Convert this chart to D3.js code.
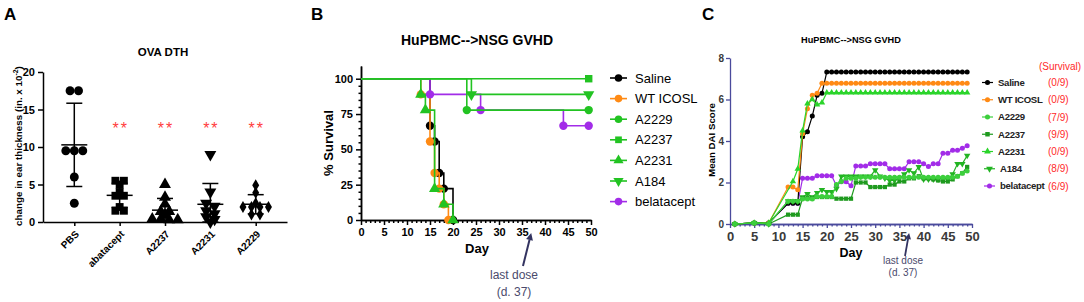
<!DOCTYPE html>
<html>
<head>
<meta charset="utf-8">
<script src="https://cdn.jsdelivr.net/npm/d3@7"></script>
<style>
    body { margin: 0; background: #fff; }
    svg { display: block; font-family: Arial, "Liberation Sans", sans-serif; }
    .axis path, .axis line { stroke: #000; stroke-width: 1.5; }
    .axis text { font-size: 11px; font-weight: bold; fill: #000; font-family: Arial, "Liberation Sans", sans-serif; }
    .axis-c path, .axis-c line { stroke: #4a4a9c; stroke-width: 1.3; }
    .axis-c text { font-weight: bold; fill: #3a3a3a; font-family: Arial, "Liberation Sans", sans-serif; }
    .panel-letter { font-size: 17px; font-weight: bold; }
    .bold { font-weight: bold; }
</style>
</head>
<body>
<div id="chart"></div>
<script>
'use strict';

// ---- Panel A: OVA DTH, change in ear thickness per mouse ----
const groupsA = ['PBS', 'abatacept', 'A2237', 'A2231', 'A2229'];
const pbsA = [17.5, 17.5, 9.5, 9.5, 9.5, 6, 2.5];
const abataceptA = [5.5, 5.5, 5, 4, 3.5, 3.5, 2, 1.5, 1.5];
const a2237A = [5, 3.3, 2.4, 1.4, 1.4, 0.9, 0.4, 0.3, 0.3, 0.4];
const a2231A = [9, 4, 2.5, 2.1, 1.5, 1.1, 0.7, 0.35, 0];
const a2229A = [4.9, 3.9, 2.5, 2, 2, 2, 2, 1, 1];
const seriesA = [pbsA, abataceptA, a2237A, a2231A, a2229A];
const signifA = ['', '**', '**', '**', '**'];
const ticksA = [0, 5, 10, 15, 20];

// ---- Panel B: Kaplan-Meier survival, [day, % survival] ----
const namesB = ['Saline', 'WT ICOSL', 'A2229', 'A2237', 'A2231', 'A184', 'belatacept'];
const salineB = [[0, 100], [15, 66.7], [16, 55.6], [17, 33.3], [18, 22.2], [20, 0]];
const wtIcoslB = [[0, 100], [13, 88.9], [15, 55.6], [16, 33.3], [17, 22.2], [18, 11.1], [19, 0]];
const a2229B = [[0, 100], [23, 77.8], [49.5, 77.8]];
const a2237B = [[0, 100], [49.5, 100]];
const a2231B = [[0, 100], [13, 88.9], [14, 77.8], [16, 22.2], [18, 11.1], [20, 0]];
const a184B = [[0, 100], [24, 88.9], [49.5, 88.9]];
const belataceptB = [[0, 100], [15, 88.9], [26, 77.8], [44, 66.7], [49.5, 66.7]];
const seriesB = [salineB, wtIcoslB, a2229B, a2237B, a2231B, a184B, belataceptB];
const ticksBx = [0, 5, 10, 15, 20, 25, 30, 35, 40, 45, 50];
const ticksBy = [0, 25, 50, 75, 100];

// ---- Panel C: mean DAI score per day ----
const daysC = [1, 5, 8, 12, 13, 14, 15, 16, 17, 18, 19, 20, 21, 22, 23, 24, 25, 26, 27, 28, 29,
    30, 31, 32, 33, 34, 35, 36, 37, 38, 39, 40, 41, 42, 43, 44, 45, 46, 47, 48, 49];
const salineC = [0, 0.05, 0.05, 1.0, 1.0, 1.0, 4.2, 4.45, 5.2, 6.2, 6.3,
    7.33, 7.33, 7.33, 7.33, 7.33, 7.33, 7.33, 7.33, 7.33, 7.33, 7.33, 7.33, 7.33, 7.33, 7.33,
    7.33, 7.33, 7.33, 7.33, 7.33, 7.33, 7.33, 7.33, 7.33, 7.33, 7.33, 7.33, 7.33, 7.33, 7.33];
const wtIcoslC = [0, 0.05, 0.05, 1.78, 1.78, 1.65, 4.35, 5.55, 6.2, 6.3, 6.78,
    6.78, 6.78, 6.78, 6.78, 6.78, 6.78, 6.78, 6.78, 6.78, 6.78, 6.78, 6.78, 6.78, 6.78, 6.78,
    6.78, 6.78, 6.78, 6.78, 6.78, 6.78, 6.78, 6.78, 6.78, 6.78, 6.78, 6.78, 6.78, 6.78, 6.78];
const a2229C = [0, 0.05, 0, 1.1, 1.1, 1.1, 1.2, 1.2, 1.2, 1.33, 1.33, 1.33, 1.33, 1.9, 2.05,
    2.2, 2.2, 2.2, 2.25, 2.25, 2.25, 2.25, 2.25, 2.25, 2.25, 2.25, 2.25, 2.25, 2.25, 2.25,
    2.25, 2.25, 2.25, 2.25, 2.25, 2.25, 2.25, 2.25, 2.3, 2.45, 2.55];
const a2237C = [0, 0.05, 0, 0.45, 0.45, 0.45, 1.25, 1.25, 1.25, 1.3, 1.3, 1.3, 1.3, 1.22, 1.22,
    1.22, 1.22, 2.0, 2.0, 2.0, 1.78, 1.78, 1.78, 1.78, 1.9, 1.9, 2.05, 2.05, 2.2, 2.2, 2.3,
    2.2, 2.2, 2.15, 2.1, 2.05, 2.05, 2.15, 2.3, 2.45, 2.75];
const a2231C = [0, 0.05, 0.05, null, 2.05, 2.65, 4.5, 5.8, 6.0, 5.75, 5.85,
    6.33, 6.33, 6.33, 6.33, 6.33, 6.33, 6.33, 6.33, 6.33, 6.33, 6.33, 6.33, 6.33, 6.33, 6.33,
    6.33, 6.33, 6.33, 6.33, 6.33, 6.33, 6.33, 6.33, 6.33, 6.33, 6.33, 6.33, 6.33, 6.33, 6.33];
const a184C = [0, 0.05, 0, 1.1, 1.1, 1.1, 1.3, 1.45, 1.3, 1.5, 1.65, 1.55, 1.55, 1.7, 2.3,
    2.3, 2.3, 2.3, 2.3, 2.3, 2.3, 2.6, 2.3, 2.2, 2.1, 2.1, 2.2, 2.4, 2.6, 2.45, 2.75,
    2.15, 2.15, 2.15, 2.15, 2.2, 2.15, 2.4, 2.9, 2.9, 3.3];
const belataceptC = [0, 0.05, 0.05, 1.0, 1.0, 1.0, 2.2, 2.2, 2.2, 2.33, 2.33, 2.33, 2.33, 1.84, 2.04,
    2.04, 1.84, 2.8, 2.8, 2.8, 2.9, 2.9, 2.9, 2.9, 2.66, 2.66, 2.66, 2.66, 3.0, 3.0, 3.0,
    2.9, 2.77, 2.9, 2.9, 3.41, 3.41, 3.55, 3.55, 3.65, 3.77];
const seriesC = [salineC, wtIcoslC, a2229C, a2237C, a2231C, a184C, belataceptC];
const survivalC = ['(0/9)', '(0/9)', '(7/9)', '(9/9)', '(0/9)', '(8/9)', '(6/9)'];
const ticksCx = [0, 5, 10, 15, 20, 25, 30, 35, 40, 45, 50];
const ticksCy = [0, 2, 4, 6, 8];

// Styles (kept apart from the data)
const shapeA = ['circle', 'square', 'triangle', 'triangleDown', 'diamond'];
const colorB = ['#000000', '#ff8a14', '#22c322', '#22c322', '#22c322', '#22c322', '#a22ce8'];
const shapeB = ['circle', 'circle', 'circle', 'square', 'triangle', 'triangleDown', 'circle'];
const colorC = ['#000000', '#ff8a14', '#3ccf3c', '#1e9a1e', '#2ad42a', '#22b422', '#a22ce8'];
const orderB = [0, 1, 4, 6, 5, 2, 3];
const orderC = [6, 0, 1, 4, 5, 3, 2];

const symbolTypes = {
    circle: d3.symbolCircle, square: d3.symbolSquare, triangle: d3.symbolTriangle,
    triangleDown: d3.symbolTriangle, diamond: d3.symbolDiamond
};

function symbolPath(shape, size) {
    return d3.symbol().type(symbolTypes[shape]).size(size)();
}

function placeSymbol(sel, shape, x, y) {
    return sel.attr('transform', `translate(${x},${y})${shape === 'triangleDown' ? ' rotate(180)' : ''}`);
}

const width = 1084, height = 302;
const svg = d3.select('#chart').append('svg')
    .attr('width', width)
    .attr('height', height);

// Panel letters
svg.append('text').attr('class', 'panel-letter').attr('x', 4).attr('y', 20).text('A');
svg.append('text').attr('class', 'panel-letter').attr('x', 311).attr('y', 20).text('B');
svg.append('text').attr('class', 'panel-letter').attr('x', 702).attr('y', 20).text('C');

// =================== Panel A ===================
function drawPanelA() {
    const yA = d3.scaleLinear().domain([0, 20]).range([222, 72]).clamp(true);
    const xA = d3.scalePoint().domain(groupsA).range([43, 287]).padding(0.69);
    const g = svg.append('g');

    g.append('text').attr('class', 'bold')
        .attr('x', 163).attr('y', 56)
        .attr('text-anchor', 'middle').style('font-size', '11.5px')
        .text('OVA DTH');

    const ylab = g.append('text').attr('class', 'bold')
        .attr('transform', 'translate(22, 146) rotate(-90)')
        .attr('text-anchor', 'middle').style('font-size', '9.8px');
    ylab.append('tspan').text('change in ear thickness (in. x 10');
    ylab.append('tspan').attr('dy', -4).style('font-size', '7px').text('-2');
    ylab.append('tspan').attr('dy', 4).text(')');

    g.append('g').attr('class', 'axis')
        .attr('transform', 'translate(43,0)')
        .call(d3.axisLeft(yA).tickValues(ticksA).tickSize(5).tickSizeOuter(0).tickPadding(3));

    const xAxis = g.append('g').attr('class', 'axis')
        .attr('transform', 'translate(0,222)')
        .call(d3.axisBottom(xA).tickSize(4).tickSizeOuter(0));
    xAxis.selectAll('text')
        .attr('x', -5.6).attr('y', 12.4).attr('dy', 0)
        .attr('text-anchor', 'end')
        .attr('transform', 'rotate(-45)')
        .style('font-size', '10px');

    groupsA.forEach((grp, i) => {
        const vals = seriesA[i];
        const cx = xA(grp);

        // spread points with near-equal values side by side
        const sorted = vals.slice().sort((a, b) => b - a);
        const rows = [];
        sorted.forEach(v => {
            const last = rows[rows.length - 1];
            if (last && last[0] - v < 0.45) last.push(v);
            else rows.push([v]);
        });
        const pts = rows.flatMap(r => r.map((v, k) => ({ v, dx: (k - (r.length - 1) / 2) * 8.5 })));

        g.selectAll(null).data(pts).join('path')
            .attr('d', symbolPath(shapeA[i], shapeA[i] === 'diamond' ? 42 : 62))
            .attr('fill', '#000')
            .each(function (d) { placeSymbol(d3.select(this), shapeA[i], cx + d.dx, yA(d.v)); });

        // mean with SD error bars
        const m = d3.mean(vals), sd = d3.deviation(vals);
        const eb = g.append('g').attr('stroke', '#000').attr('stroke-width', 1.5);
        eb.append('line').attr('x1', cx).attr('x2', cx).attr('y1', yA(m + sd)).attr('y2', yA(m - sd));
        eb.append('line').attr('x1', cx - 13).attr('x2', cx + 13).attr('y1', yA(m)).attr('y2', yA(m));
        eb.append('line').attr('x1', cx - 8).attr('x2', cx + 8).attr('y1', yA(m + sd)).attr('y2', yA(m + sd));
        eb.append('line').attr('x1', cx - 8).attr('x2', cx + 8).attr('y1', yA(m - sd)).attr('y2', yA(m - sd));

        if (signifA[i]) {
            g.append('text')
                .attr('x', cx + 1).attr('y', yA(11.7))
                .attr('text-anchor', 'middle')
                .style('font-size', '16px').style('letter-spacing', '2px')
                .attr('fill', '#ff3c3c')
                .text(signifA[i]);
        }
    });
}

// =================== Panel B ===================
function drawPanelB() {
    const xB = d3.scaleLinear().domain([0, 50]).range([361, 591]);
    const yB = d3.scaleLinear().domain([0, 109]).range([220, 66]);
    const g = svg.append('g');

    g.append('text').attr('class', 'bold')
        .attr('x', 477).attr('y', 45).attr('text-anchor', 'middle')
        .style('font-size', '14px').text('HuPBMC-->NSG GVHD');

    g.append('text').attr('class', 'bold')
        .attr('transform', 'translate(333, 143) rotate(-90)')
        .attr('text-anchor', 'middle').style('font-size', '13px')
        .text('% Survival');

    g.append('text').attr('class', 'bold')
        .attr('x', 477).attr('y', 253).attr('text-anchor', 'middle')
        .style('font-size', '13px').text('Day');

    // minor ticks
    g.append('g').attr('class', 'axis')
        .attr('transform', 'translate(361,0)')
        .call(d3.axisLeft(yB).tickValues(d3.range(5, 100, 5).filter(v => v % 25)).tickSize(2.5).tickSizeOuter(0).tickFormat(''));
    g.append('g').attr('class', 'axis')
        .attr('transform', 'translate(0,220)')
        .call(d3.axisBottom(xB).tickValues(d3.range(1, 50).filter(v => v % 5)).tickSize(3).tickSizeOuter(0).tickFormat(''));

    g.append('g').attr('class', 'axis')
        .attr('transform', 'translate(361,0)')
        .call(d3.axisLeft(yB).tickValues(ticksBy).tickSize(5).tickSizeOuter(0).tickPadding(3));
    g.append('g').attr('class', 'axis')
        .attr('transform', 'translate(0,220)')
        .call(d3.axisBottom(xB).tickValues(ticksBx).tickSize(5).tickSizeOuter(0).tickPadding(3));

    const step = d3.line()
        .x(d => xB(d[0]))
        .y(d => yB(d[1]))
        .curve(d3.curveStepAfter);

    orderB.forEach(i => {
        const data = seriesB[i];
        g.append('path')
            .datum(data)
            .attr('d', step)
            .attr('fill', 'none')
            .attr('stroke', colorB[i])
            .attr('stroke-width', 1.6);

        g.selectAll(null).data(data.slice(1)).join('path')
            .attr('d', symbolPath(shapeB[i], 55))
            .attr('fill', colorB[i])
            .each(function (d) { placeSymbol(d3.select(this), shapeB[i], xB(d[0]), yB(d[1])); });
    });

    // legend
    const leg = g.append('g');
    namesB.forEach((name, i) => {
        const y = 78 + i * 20.6;
        leg.append('line').attr('x1', 610).attr('x2', 627).attr('y1', y).attr('y2', y)
            .attr('stroke', colorB[i]).attr('stroke-width', 1.6);
        placeSymbol(leg.append('path').attr('d', symbolPath(shapeB[i], 45)).attr('fill', colorB[i]),
            shapeB[i], 618.5, y);
        leg.append('text').attr('x', 635).attr('y', y).attr('dy', '0.35em')
            .style('font-size', '13px').text(name);
    });

    // last dose annotation
    const ann = g.append('g').attr('fill', '#4a4a6c');
    ann.append('text').attr('x', 514).attr('y', 279).attr('text-anchor', 'middle')
        .style('font-size', '12px').text('last dose');
    ann.append('text').attr('x', 514).attr('y', 296).attr('text-anchor', 'middle')
        .style('font-size', '12px').text('(d. 37)');
    drawArrow(g, 523, 266, xB(37), 233, '#333360', 2, 7);
}

function drawArrow(g, x1, y1, x2, y2, color, w, head) {
    const ang = Math.atan2(y2 - y1, x2 - x1);
    const bx = x2 - head * Math.cos(ang), by = y2 - head * Math.sin(ang);
    g.append('line').attr('x1', x1).attr('y1', y1).attr('x2', bx).attr('y2', by)
        .attr('stroke', color).attr('stroke-width', w);
    const px = Math.sin(ang) * head * 0.5, py = -Math.cos(ang) * head * 0.5;
    g.append('path')
        .attr('d', `M${x2},${y2}L${bx + px},${by + py}L${bx - px},${by - py}Z`)
        .attr('fill', color);
}

// =================== Panel C ===================
function drawPanelC() {
    const xC = d3.scaleLinear().domain([0, 50]).range([730, 972]);
    const yC = d3.scaleLinear().domain([0, 8]).range([224, 58]);
    const g = svg.append('g');

    g.append('text').attr('class', 'bold')
        .attr('x', 851).attr('y', 43).attr('text-anchor', 'middle')
        .style('font-size', '9.2px').text('HuPBMC-->NSG GVHD');

    g.append('text').attr('class', 'bold')
        .attr('transform', 'translate(715, 140) rotate(-90)')
        .attr('text-anchor', 'middle').style('font-size', '9.7px')
        .text('Mean DAI Score');

    g.append('text').attr('class', 'bold')
        .attr('x', 851).attr('y', 257).attr('text-anchor', 'middle')
        .style('font-size', '12.5px').text('Day');

    g.append('g').attr('class', 'axis-c')
        .attr('transform', 'translate(0,224)')
        .call(d3.axisBottom(xC).tickValues(d3.range(1, 50).filter(v => v % 5)).tickSize(2.5).tickSizeOuter(0).tickFormat(''));
    g.append('g').attr('class', 'axis-c')
        .attr('transform', 'translate(0,224)')
        .call(d3.axisBottom(xC).tickValues(ticksCx).tickSize(4).tickSizeOuter(0).tickPadding(4))
        .selectAll('text').style('font-size', '13px');
    g.append('g').attr('class', 'axis-c')
        .attr('transform', 'translate(730,0)')
        .call(d3.axisLeft(yC).tickValues(ticksCy).tickSize(4).tickSizeOuter(0).tickPadding(2))
        .selectAll('text').style('font-size', '10px');

    const line = d3.line().x(d => xC(d.day)).y(d => yC(d.v));

    orderC.forEach(i => {
        const pts = daysC.map((day, k) => ({ day, v: seriesC[i][k] })).filter(d => d.v != null);
        g.append('path').datum(pts)
            .attr('d', line)
            .attr('fill', 'none')
            .attr('stroke', colorC[i])
            .attr('stroke-width', 1.2);
        g.selectAll(null).data(pts).join('path')
            .attr('d', symbolPath(shapeB[i], shapeB[i] === 'circle' ? 20 : 18))
            .attr('fill', colorC[i])
            .each(function (d) { placeSymbol(d3.select(this), shapeB[i], xC(d.day), yC(d.v)); });
    });

    // legend with survival counts
    const leg = g.append('g');
    leg.append('text').attr('x', 1060).attr('y', 66).attr('dy', '0.35em')
        .attr('text-anchor', 'middle').attr('fill', '#ff2a2a')
        .style('font-size', '10px').text('(Survival)');
    namesB.forEach((name, i) => {
        const y = 82.5 + i * 17.25;
        const shift = i >= 5 ? 2 : 0;
        leg.append('line').attr('x1', 982 + shift).attr('x2', 993 + shift).attr('y1', y).attr('y2', y)
            .attr('stroke', colorC[i]).attr('stroke-width', 1.2);
        placeSymbol(leg.append('path').attr('d', symbolPath(shapeB[i], 20)).attr('fill', colorC[i]),
            shapeB[i], 987.5 + shift, y);
        leg.append('text').attr('x', 998 + shift).attr('y', y).attr('dy', '0.35em')
            .style('font-size', '9.6px').style('font-weight', 'bold').attr('fill', '#222')
            .style('letter-spacing', '-0.3px')
            .text(name);
        leg.append('text').attr('x', 1048).attr('y', y).attr('dy', '0.35em')
            .style('font-size', '10px').attr('fill', '#ff2a2a')
            .text(survivalC[i]);
    });

    const ann = g.append('g').attr('fill', '#4a4a6c');
    ann.append('text').attr('x', 903).attr('y', 264).attr('text-anchor', 'middle')
        .style('font-size', '10px').text('last dose');
    ann.append('text').attr('x', 903).attr('y', 276).attr('text-anchor', 'middle')
        .style('font-size', '10px').text('(d. 37)');
    drawArrow(g, 905, 256, xC(37), 233, '#333360', 1.8, 6);
}

drawPanelA();
drawPanelB();
drawPanelC();
</script>
</body>
</html>
